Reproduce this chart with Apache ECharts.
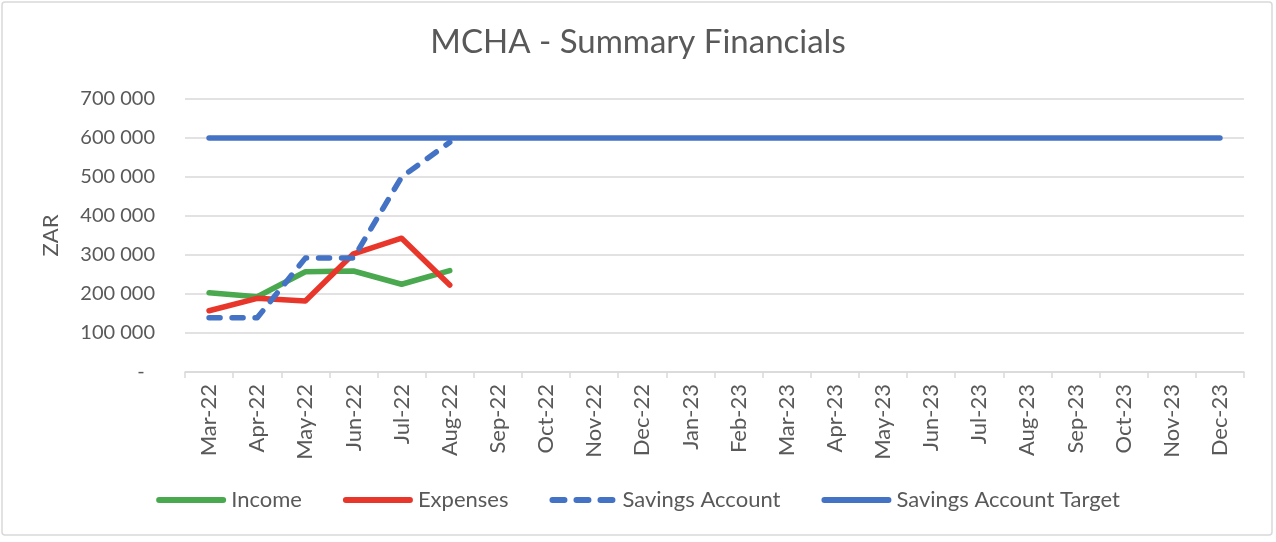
<!DOCTYPE html>
<html>
<head>
<meta charset="utf-8">
<script src="https://cdn.jsdelivr.net/npm/echarts@6/dist/echarts.min.js"></script>
<style>
  html, body { margin: 0; padding: 0; background: #ffffff; }
  #chart_1 { width: 1276px; height: 542px; }
</style>
</head>
<body>
<div id="chart_1"></div>
<script>
var months = ['Mar-22', 'Apr-22', 'May-22', 'Jun-22', 'Jul-22', 'Aug-22', 'Sep-22', 'Oct-22',
  'Nov-22', 'Dec-22', 'Jan-23', 'Feb-23', 'Mar-23', 'Apr-23', 'May-23', 'Jun-23',
  'Jul-23', 'Aug-23', 'Sep-23', 'Oct-23', 'Nov-23', 'Dec-23'];
var income = [203000, 193000, 257000, 259000, 225000, 260000];
var expenses = [157000, 189000, 182000, 303000, 343000, 223000];
var savings = [139000, 139000, 292000, 292000, 500000, 589000];
var savingsTarget = [600000, 600000, 600000, 600000, 600000, 600000, 600000, 600000,
  600000, 600000, 600000, 600000, 600000, 600000, 600000, 600000,
  600000, 600000, 600000, 600000, 600000, 600000];
var yTicks = [0, 100000, 200000, 300000, 400000, 500000, 600000, 700000];

var dom = document.getElementById('chart_1');
var myChart = echarts.init(dom);
var font = 'Lato';
var grey = '#595959';
var green = '#4aa84f', red = '#e8362a', blue = '#4472c4';

function fmtZar(v) {
  if (v === 0) return '-  ';
  return String(v).replace(/\B(?=(\d{3})+(?!\d))/g, ' ');
}

function lineSeries(name, data, color, dashed) {
  return {
    name: name,
    type: 'line',
    data: data,
    symbol: 'none',
    animation: false,
    lineStyle: {
      color: color,
      width: 5.5,
      cap: 'round',
      join: 'round',
      type: dashed ? [11, 12] : 'solid'
    },
    itemStyle: { color: color }
  };
}

// legend keys drawn as pills (dashed one as three short pills)
var pill = 'path://M3,0 H67 A3,3 0 0 1 67,6 H3 A3,3 0 0 1 3,0 Z';
var dashPill = 'path://M3,0 H15 A3,3 0 0 1 15,6 H3 A3,3 0 0 1 3,0 Z ' +
  'M27,0 H39 A3,3 0 0 1 39,6 H27 A3,3 0 0 1 27,0 Z ' +
  'M51,0 H63 A3,3 0 0 1 63,6 H51 A3,3 0 0 1 51,0 Z';

var option = {
  backgroundColor: '#ffffff',
  textStyle: { fontFamily: font },
  title: {
    text: 'MCHA - Summary Financials',
    left: 'center',
    top: 26,
    padding: 0,
    textStyle: { fontFamily: font, fontSize: 33, fontWeight: 'normal', color: grey }
  },
  legend: {
    left: 'center',
    top: 484,
    itemWidth: 70,
    itemHeight: 6,
    itemGap: 41,
    textStyle: { fontFamily: font, fontSize: 22, color: grey },
    data: [
      { name: 'Income', icon: pill },
      { name: 'Expenses', icon: pill },
      { name: 'Savings Account', icon: dashPill },
      { name: 'Savings Account Target', icon: pill }
    ]
  },
  graphic: [{
    type: 'rect',
    shape: { x: 2, y: 2, width: 1270, height: 533, r: 3 },
    style: { fill: 'none', stroke: '#d9d9d9', lineWidth: 1.5 },
    silent: true
  }],
  grid: { left: 185, right: 32, top: 99, bottom: 170 },
  xAxis: {
    type: 'category',
    data: months,
    boundaryGap: true,
    axisLine: { lineStyle: { color: '#d9d9d9', width: 1.5 } },
    axisTick: { show: true, length: 6, lineStyle: { color: '#d9d9d9', width: 1.5 } },
    axisLabel: {
      rotate: 90,
      margin: 12,
      interval: 0,
      fontFamily: font,
      fontSize: 22,
      color: grey
    }
  },
  yAxis: {
    type: 'value',
    min: yTicks[0],
    max: yTicks[yTicks.length - 1],
    interval: 100000,
    name: 'ZAR',
    nameLocation: 'middle',
    nameGap: 123,
    nameRotate: 90,
    nameTextStyle: { fontFamily: font, fontSize: 22, color: grey },
    axisLine: { show: false },
    axisTick: { show: false },
    axisLabel: {
      margin: 30,
      fontFamily: font,
      fontSize: 20,
      color: grey,
      formatter: fmtZar
    },
    splitLine: { lineStyle: { color: '#d9d9d9', width: 1.5 } }
  },
  series: [
    lineSeries('Income', income, green, false),
    lineSeries('Expenses', expenses, red, false),
    lineSeries('Savings Account', savings, blue, true),
    lineSeries('Savings Account Target', savingsTarget, blue, false)
  ]
};

if (option && typeof option === 'object') {
  myChart.setOption(option, true);
}
</script>
</body>
</html>
